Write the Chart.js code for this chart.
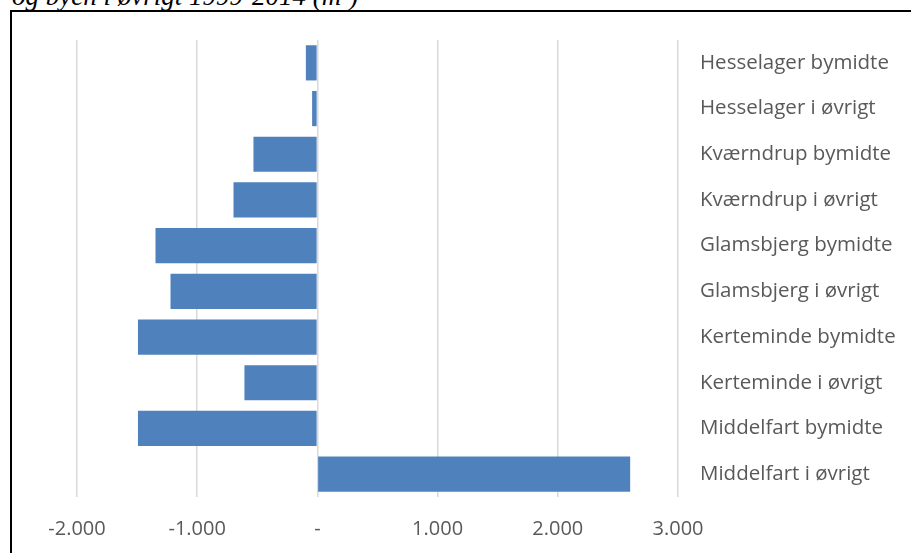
<!DOCTYPE html>
<html>
<head>
<meta charset="utf-8">
<script src="https://cdn.jsdelivr.net/npm/chart.js@4/dist/chart.umd.min.js"></script>
<style>
  html, body { margin: 0; padding: 0; background: #fff; overflow: hidden; }
  #wrap { position: relative; width: 911px; height: 553px; }
  #chart { position: absolute; left: 0; top: 0; }
  #frame { position: absolute; left: 10px; top: 10px; width: 940px; height: 580px;
           border-top: 2px solid #000; border-left: 2px solid #000; }
  #title { position: absolute; left: 12px; top: -19px; white-space: nowrap; line-height: 1;
           font: italic 27px "Liberation Serif", "DejaVu Serif", serif; color: #000; }
  #title span { font-size: 16px; position: relative; top: -11px; }
</style>
</head>
<body>
<div id="wrap">
  <div id="title">og byen i øvrigt 1999-2014 (m<span>2</span>)</div>
  <div id="frame"></div>
  <canvas id="chart" width="911" height="553"></canvas>
</div>
<script>
// Områder, ovenfra og ned
const categories = [
  'Hesselager bymidte', 'Hesselager i øvrigt',
  'Kværndrup bymidte', 'Kværndrup i øvrigt',
  'Glamsbjerg bymidte', 'Glamsbjerg i øvrigt',
  'Kerteminde bymidte', 'Kerteminde i øvrigt',
  'Middelfart bymidte', 'Middelfart i øvrigt'
];

// Ændring i m2
const changeM2 = [-96, -44, -532, -698, -1347, -1222, -1493, -607, -1493, 2602];

const axisMin = -2000;
const axisMax = 3000;
const axisStep = 1000;

const labelColor = '#595959';

function formatTick(v) {
  if (v === 0) return '-';
  const s = Math.abs(v).toString().replace(/\B(?=(\d{3})+(?!\d))/g, '.');
  return (v < 0 ? '-' : '') + s;
}

const ctx = document.getElementById('chart').getContext('2d');
new Chart(ctx, {
  type: 'bar',
  data: {
    labels: categories,
    datasets: [{
      data: changeM2,
      backgroundColor: '#4f81bd',
      borderWidth: 0,
      categoryPercentage: 1,
      barPercentage: 0.77
    }]
  },
  options: {
    indexAxis: 'y',
    responsive: false,
    animation: false,
    layout: { padding: { left: 77, top: 40, right: 0, bottom: 0 } },
    plugins: {
      legend: { display: false },
      tooltip: { enabled: false }
    },
    scales: {
      x: {
        min: axisMin,
        max: axisMax,
        afterFit: (scale) => { scale.height = 56; },
        ticks: {
          stepSize: axisStep,
          callback: (v) => formatTick(v),
          color: labelColor,
          font: { family: 'Open Sans', size: 20 },
          padding: 20,
          maxRotation: 0
        },
        grid: { color: '#d9d9d9', lineWidth: 1.5, drawTicks: false },
        border: { display: false }
      },
      y: {
        position: 'right',
        afterFit: (scale) => { scale.width = 911 - 678; },
        ticks: {
          color: labelColor,
          font: { family: 'Open Sans', size: 20.5 },
          padding: 22
        },
        grid: { display: false, drawTicks: false },
        border: { display: false }
      }
    }
  }
});
</script>
</body>
</html>
